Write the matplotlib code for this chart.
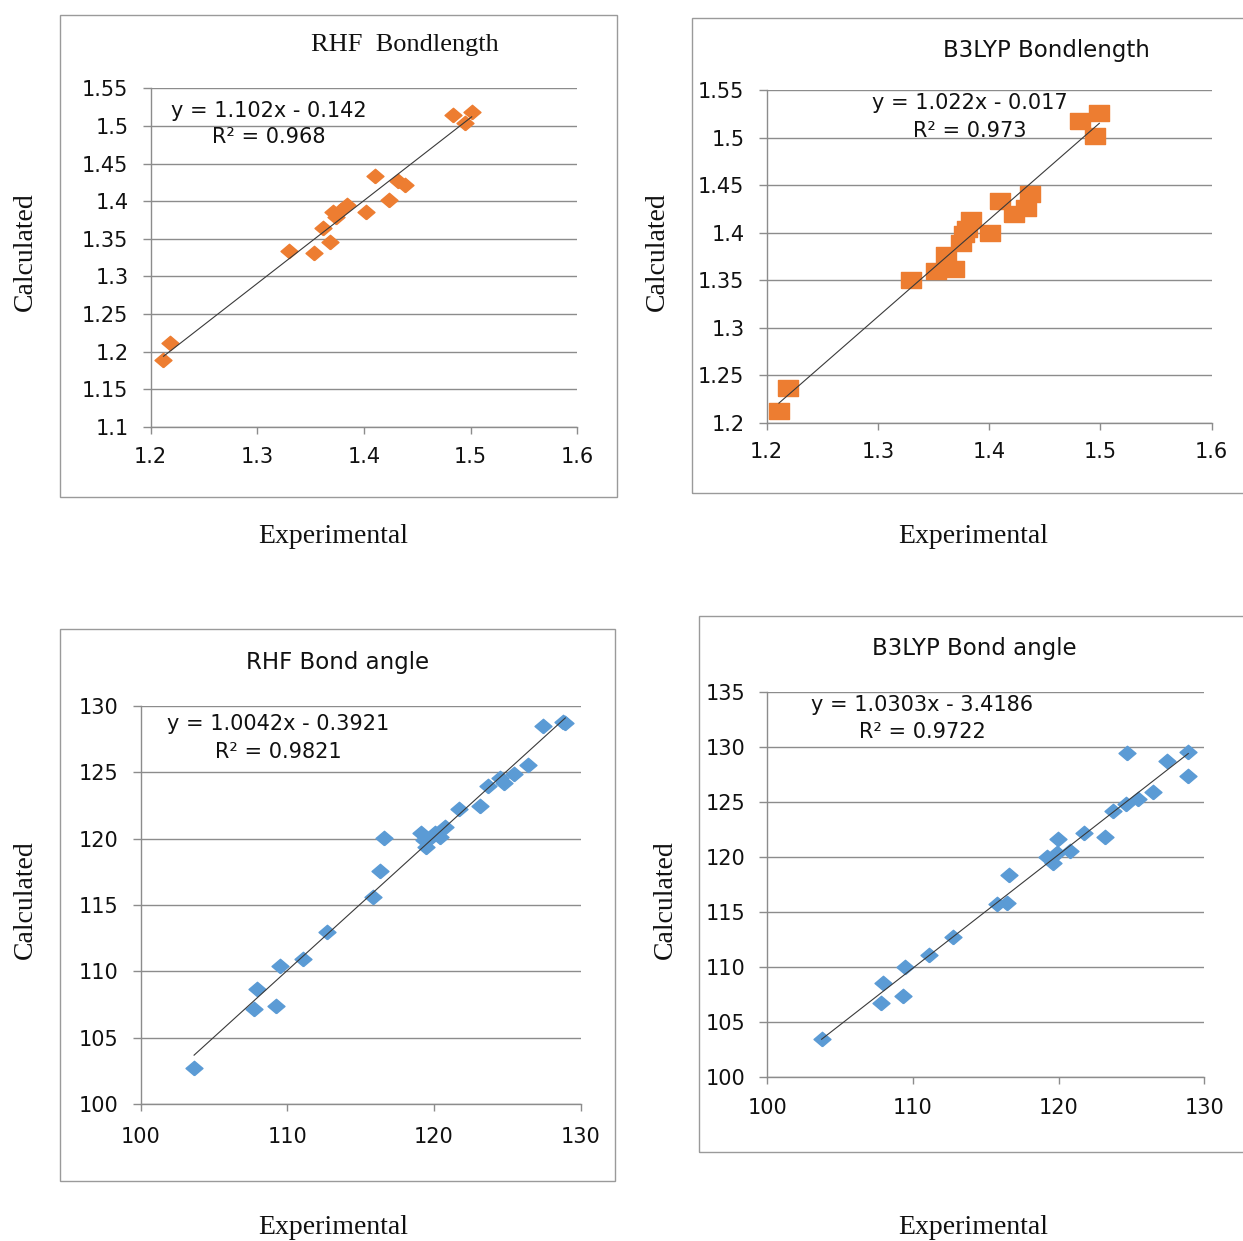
import matplotlib
matplotlib.use("Agg")
import matplotlib.pyplot as plt
import numpy as np
from matplotlib.patches import Rectangle

# bond length data (Angstrom)
rhf_bl_exp = [1.212, 1.218, 1.330, 1.353, 1.362, 1.368, 1.371, 1.374, 1.378, 1.384,
              1.402, 1.410, 1.423, 1.432, 1.438, 1.483, 1.495, 1.501]
rhf_bl_calc = [1.189, 1.211, 1.334, 1.331, 1.364, 1.345, 1.386, 1.379, 1.388, 1.395,
               1.386, 1.433, 1.402, 1.427, 1.421, 1.515, 1.504, 1.518]

b3_bl_exp = [1.211, 1.219, 1.330, 1.352, 1.368, 1.361, 1.375, 1.377, 1.380, 1.384,
             1.401, 1.410, 1.422, 1.433, 1.437, 1.482, 1.495, 1.499]
b3_bl_calc = [1.212, 1.236, 1.350, 1.360, 1.362, 1.376, 1.389, 1.399, 1.404, 1.413,
              1.400, 1.433, 1.420, 1.426, 1.441, 1.517, 1.502, 1.526]

# bond angle data (degrees)
rhf_ang_exp = [103.64, 107.73, 107.91, 109.23, 109.50, 111.09, 112.68, 115.82, 116.32,
               116.59, 119.09, 119.30, 119.45, 119.70, 120.07, 120.40, 120.75, 121.73,
               123.14, 123.66, 124.50, 124.77, 125.48, 126.43, 127.45, 128.82, 128.95]
rhf_ang_calc = [102.69, 107.14, 108.67, 107.41, 110.40, 110.90, 112.99, 115.63, 117.56,
                120.03, 120.40, 119.90, 119.40, 120.03, 120.40, 120.15, 120.85, 122.21,
                122.49, 123.97, 124.55, 124.22, 124.87, 125.55, 128.52, 128.82, 128.70]

b3_ang_exp = [103.73, 107.78, 107.96, 109.34, 109.45, 111.12, 112.72, 115.79, 116.43,
              116.61, 119.22, 119.59, 119.86, 119.98, 120.78, 121.74, 123.18, 123.71,
              124.62, 124.67, 125.47, 126.50, 127.46, 128.90, 128.90]
b3_ang_calc = [103.45, 106.72, 108.59, 107.38, 109.98, 111.10, 112.70, 115.73, 115.85,
               118.36, 120.02, 119.42, 120.32, 121.59, 120.57, 122.14, 121.84, 124.19,
               124.80, 129.46, 125.22, 125.92, 128.73, 129.49, 127.37]

# trendline coefficients as printed on the charts
fits = {"rhf_bl": (1.102, -0.142), "b3_bl": (1.022, -0.017),
        "rhf_ang": (1.0042, -0.3921), "b3_ang": (1.0303, -3.4186)}
eq_text = {"rhf_bl": ("y = 1.102x - 0.142", "R² = 0.968"),
           "b3_bl": ("y = 1.022x - 0.017", "R² = 0.973"),
           "rhf_ang": ("y = 1.0042x - 0.3921", "R² = 0.9821"),
           "b3_ang": ("y = 1.0303x - 3.4186", "R² = 0.9722")}

bl_xticks = [1.2, 1.3, 1.4, 1.5, 1.6]
ang_xticks = [100, 110, 120, 130]

W, H = 1243, 1241
orange = "#ED7D31"
blue = "#5B9BD5"
grid_c = "#8C8C8C"
txt_c = "#111111"
serif = "Liberation Serif"
sans = "DejaVu Sans"

diamond = [(0, -0.85), (1, 0), (0, 0.85), (-1, 0), (0, -0.85)]
rect = [(-1, -0.8), (1, -0.8), (1, 0.8), (-1, 0.8), (-1, -0.8)]

fig = plt.figure(figsize=(W / 100, H / 100), dpi=100)


def fx(px):
    return px / W


def fy(py):
    return 1 - py / H


def add_ax(left, top, right, bottom):
    return fig.add_axes([fx(left), fy(bottom), (right - left) / W, (bottom - top) / H])


def box(left, top, right, bottom):
    fig.patches.append(Rectangle((fx(left), fy(bottom)), (right - left) / W, (bottom - top) / H,
                                 transform=fig.transFigure, fill=False,
                                 edgecolor="#9A9A9A", lw=1.0))


def panel(ax, x, y, key, color, marker, ms, xlim, ylim, xticks, yticks, xpad):
    ax.plot(x, y, linestyle="none", marker=marker, ms=ms, color=color,
            mec=color, zorder=3, clip_on=False)
    slope, icpt = fits[key]
    xs = np.array([min(x), max(x)])
    ax.plot(xs, slope * xs + icpt, color="#3A3A3A", lw=0.8, zorder=4)
    ax.set_xlim(*xlim)
    ax.set_ylim(*ylim)
    ax.set_xticks(xticks)
    ax.set_xticklabels([f"{v:g}" for v in xticks])
    ax.set_yticks(yticks)
    ax.set_yticklabels([f"{v:g}" for v in yticks])
    ax.grid(axis="y", color=grid_c, lw=1.0)
    ax.set_axisbelow(True)
    for s in ["top", "right"]:
        ax.spines[s].set_visible(False)
    for s in ["left", "bottom"]:
        ax.spines[s].set_color(grid_c)
        ax.spines[s].set_linewidth(1.0)
    ax.tick_params(axis="x", direction="out", length=5, width=1, color=grid_c,
                   pad=xpad, labelsize=15, labelcolor=txt_c)
    ax.tick_params(axis="y", direction="out", length=6, width=1, color=grid_c,
                   pad=10, labelsize=15, labelcolor=txt_c)
    for lab in ax.get_xticklabels() + ax.get_yticklabels():
        lab.set_family(sans)


def equation(key, cx, y1, y2):
    l1, l2 = eq_text[key]
    fig.text(fx(cx), fy(y1), l1, ha="center", va="center", fontsize=15,
             family=sans, color=txt_c)
    fig.text(fx(cx), fy(y2), l2, ha="center", va="center", fontsize=15,
             family=sans, color=txt_c)


# chart frames
box(60, 15, 617, 497)
box(692, 18, 1250, 493)
box(60, 629, 615, 1181)
box(699, 616, 1250, 1152)

# RHF bond length
ax1 = add_ax(150.7, 88.3, 577.3, 426.7)
panel(ax1, rhf_bl_exp, rhf_bl_calc, "rhf_bl", orange, diamond, 12.2,
      (1.2, 1.6), (1.1, 1.55), bl_xticks, np.round(np.arange(1.1, 1.551, 0.05), 2), 9.5)
fig.text(fx(405), fy(45), "RHF  Bondlength", ha="center", va="center",
         fontsize=19, family=serif, color=txt_c)
equation("rhf_bl", 269, 111, 137)

# B3LYP bond length
ax2 = add_ax(766.7, 90, 1211.7, 422.7)
panel(ax2, b3_bl_exp, b3_bl_calc, "b3_bl", orange, rect, 13.7,
      (1.2, 1.6), (1.2, 1.55), bl_xticks, np.round(np.arange(1.2, 1.551, 0.05), 2), 9)
fig.text(fx(1046), fy(50), "B3LYP Bondlength", ha="center", va="center",
         fontsize=16.5, family=sans, color=txt_c)
equation("b3_bl", 970, 103, 131)

# RHF bond angle
ax3 = add_ax(140.7, 706, 580.7, 1104)
panel(ax3, rhf_ang_exp, rhf_ang_calc, "rhf_ang", blue, diamond, 12.2,
      (100, 130), (100, 130), ang_xticks, list(range(100, 131, 5)), 11.5)
fig.text(fx(338), fy(662), "RHF Bond angle", ha="center", va="center",
         fontsize=16.5, family=sans, color=txt_c)
equation("rhf_ang", 278, 724, 752)

# B3LYP bond angle
ax4 = add_ax(767.3, 691.7, 1204.3, 1077.3)
panel(ax4, b3_ang_exp, b3_ang_calc, "b3_ang", blue, diamond, 12.2,
      (100, 130), (100, 135), ang_xticks, list(range(100, 136, 5)), 10)
fig.text(fx(974), fy(649), "B3LYP Bond angle", ha="center", va="center",
         fontsize=16.5, family=sans, color=txt_c)
equation("b3_ang", 922, 705, 732)

# axis titles outside the chart frames
for cx, cy in [(25, 252), (657, 252), (25, 900), (665, 900)]:
    fig.text(fx(cx), fy(cy), "Calculated", rotation=90, ha="center", va="center",
             fontsize=20, family=serif, color=txt_c)
for cx, cy in [(333, 537), (973, 537), (333, 1228), (973, 1228)]:
    fig.text(fx(cx), fy(cy), "Experimental", ha="center", va="center",
             fontsize=20, family=serif, color=txt_c)

fig.savefig("out.png", dpi=100)
